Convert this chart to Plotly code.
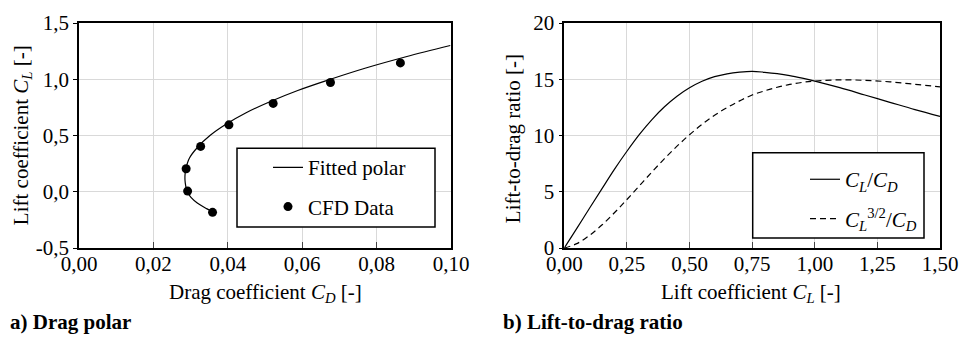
import plotly.graph_objects as go

# ---- data: drag polar (left) ----
fit_cl = [-0.18, -0.15, -0.10, -0.05, 0.00, 0.05, 0.10, 0.15, 0.20, 0.30, 0.40, 0.50,
          0.60, 0.70, 0.80, 0.90, 1.00, 1.10, 1.20, 1.30]
fit_cd = [0.0361, 0.0343, 0.0318, 0.0301, 0.0291, 0.0287, 0.0285, 0.0285, 0.0287, 0.0297,
          0.0320, 0.0352, 0.0395, 0.0448, 0.0513, 0.0588, 0.0676, 0.0771, 0.0879, 0.0998]
cfd_cd = [0.0359, 0.0292, 0.0288, 0.0327, 0.0403, 0.0522, 0.0676, 0.0864]
cfd_cl = [-0.183, 0.006, 0.204, 0.403, 0.595, 0.785, 0.971, 1.145]

# ---- data: lift-to-drag ratio (right) ----
ratio_cl = [0.00, 0.05, 0.10, 0.15, 0.20, 0.25, 0.30, 0.35, 0.40, 0.45, 0.50, 0.55, 0.60,
            0.65, 0.70, 0.75, 0.80, 0.85, 0.90, 0.95, 1.00, 1.10, 1.20, 1.30, 1.40, 1.50]
ld = [0.00, 1.74, 3.51, 5.26, 6.99, 8.60, 10.10, 11.42, 12.55, 13.49, 14.24, 14.82, 15.23,
      15.48, 15.63, 15.70, 15.62, 15.50, 15.33, 15.10, 14.84, 14.25, 13.60, 12.95, 12.30, 11.70]
l15d = [0.00, 0.39, 1.11, 2.04, 3.13, 4.31, 5.53, 6.76, 7.94, 9.05, 10.07, 10.99, 11.80,
        12.48, 13.08, 13.60, 13.97, 14.29, 14.54, 14.72, 14.84, 14.95, 14.90, 14.77, 14.55, 14.33]

# ---- tick labels ----
x1_vals = [0.00, 0.02, 0.04, 0.06, 0.08, 0.10]
x1_text = ["0,00", "0,02", "0,04", "0,06", "0,08", "0,10"]
y1_vals = [-0.5, 0.0, 0.5, 1.0, 1.5]
y1_text = ["-0,5", "0,0", "0,5", "1,0", "1,5"]
x2_vals = [0.00, 0.25, 0.50, 0.75, 1.00, 1.25, 1.50]
x2_text = ["0,00", "0,25", "0,50", "0,75", "1,00", "1,25", "1,50"]
y2_vals = [0, 5, 10, 15, 20]
y2_text = ["0", "5", "10", "15", "20"]

FONT = "Liberation Serif"
FS = 21

W, H = 960, 340
ML, MR, MT, MB = 79, 20, 22.7, 92
PW = W - ML - MR
PH = H - MT - MB


def px(xp):
    return (xp - ML) / PW


def py(yp):
    return 1 - (yp - MT) / PH


fig = go.Figure()
fig.add_trace(go.Scatter(x=fit_cd, y=fit_cl, mode="lines", name="Fitted polar",
                         line=dict(color="black", width=1.2, shape="spline"),
                         xaxis="x", yaxis="y", legend="legend", legendgroup="a"))
fig.add_trace(go.Scatter(x=cfd_cd, y=cfd_cl, mode="markers", name="CFD Data",
                         marker=dict(color="black", size=9),
                         xaxis="x", yaxis="y", legend="legend", legendgroup="b"))
fig.add_trace(go.Scatter(x=ratio_cl, y=ld, mode="lines",
                         name="<i>C<sub>L</sub></i>/<i>C<sub>D</sub></i>",
                         line=dict(color="black", width=1.2, shape="spline"),
                         xaxis="x2", yaxis="y2", legend="legend2", legendgroup="c"))
fig.add_trace(go.Scatter(x=ratio_cl, y=l15d, mode="lines",
                         name="<i>C<sub>L</sub></i><sup>3/2</sup>/<i>C<sub>D</sub></i>",
                         line=dict(color="black", width=1.2, shape="spline", dash="6px,4px"),
                         xaxis="x2", yaxis="y2", legend="legend2", legendgroup="d"))

axis_common = dict(showline=True, linecolor="black", linewidth=1.5, mirror=True,
                   showgrid=True, gridcolor="#d9d9d9", gridwidth=1, zeroline=False,
                   automargin=False,
                   tickfont=dict(family=FONT, size=FS, color="black"))

xaxis_extra = dict(ticks="inside", ticklen=6, tickcolor="#444", ticklabelstandoff=-4)
yaxis_extra = dict(ticks="outside", ticklen=4, tickcolor="black")

legend_common = dict(xanchor="left", yanchor="top", bgcolor="rgba(0,0,0,0)", borderwidth=0,
                     font=dict(family=FONT, size=FS, color="black"), tracegroupgap=9,
                     traceorder="grouped")

title_font = dict(family=FONT, size=FS, color="black")


def title_ann(text, x, y, angle=0):
    return dict(text=text, x=px(x), y=py(y), xref="paper", yref="paper",
                xanchor="center", yanchor="middle", showarrow=False, textangle=angle,
                font=title_font)


fig.update_layout(
    width=W, height=H, margin=dict(l=ML, r=MR, t=MT, b=MB, autoexpand=False),
    paper_bgcolor="white", plot_bgcolor="white",
    font=dict(family=FONT, size=FS, color="black"),
    xaxis=dict(domain=[0, px(451)], range=[0, 0.10], anchor="y",
               tickvals=x1_vals, ticktext=x1_text, **xaxis_extra, **axis_common),
    yaxis=dict(domain=[0, 1], range=[-0.5, 1.5], anchor="x",
               tickvals=y1_vals, ticktext=y1_text, **yaxis_extra, **axis_common),
    xaxis2=dict(domain=[px(564.3), px(940)], range=[0, 1.5], anchor="y2",
                tickvals=x2_vals, ticktext=x2_text, **xaxis_extra, **axis_common),
    yaxis2=dict(domain=[0, 1], range=[0, 20], anchor="x2",
                tickvals=y2_vals, ticktext=y2_text, **yaxis_extra, **axis_common),
    legend=dict(x=px(268), y=py(147), **legend_common),
    legend2=dict(x=px(805), y=py(159), **legend_common),
    showlegend=True,
    shapes=[
        dict(type="rect", xref="paper", yref="paper", x0=px(237), x1=px(435),
             y0=py(227), y1=py(148), line=dict(color="black", width=1.5),
             fillcolor="white", layer="above"),
        dict(type="rect", xref="paper", yref="paper", x0=px(752.7), x1=px(924),
             y0=py(238), y1=py(152.7), line=dict(color="black", width=1.5),
             fillcolor="white", layer="above"),
    ],
    annotations=[
        title_ann("Drag coefficient <i>C<sub>D</sub></i> [-]", 265, 293),
        title_ann("Lift coefficient <i>C<sub>L</sub></i> [-]", 22, 135, -90),
        title_ann("Lift coefficient <i>C<sub>L</sub></i> [-]", 751, 293),
        title_ann("Lift-to-drag ratio [-]", 513, 139, -90),
        dict(text="<b>a) Drag polar</b>", x=px(8), y=py(322), xref="paper", yref="paper",
             xanchor="left", yanchor="middle", showarrow=False, font=title_font),
        dict(text="<b>b) Lift-to-drag ratio</b>", x=px(501), y=py(322), xref="paper",
             yref="paper", xanchor="left", yanchor="middle", showarrow=False, font=title_font),
    ],
)

fig.write_html("out.html")
